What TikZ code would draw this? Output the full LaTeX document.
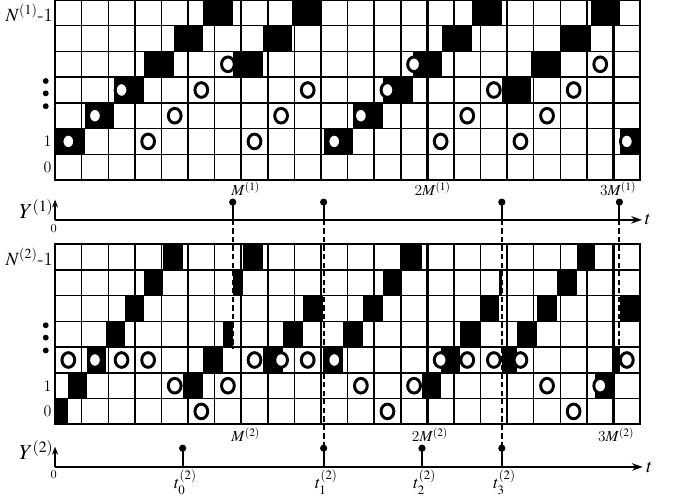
\documentclass[tikz,border=0pt]{standalone}
\usepackage{mathptmx}
\usepackage[scaled=0.92]{helvet}
\usetikzlibrary{arrows.meta}
\begin{document}
\begin{tikzpicture}[x=19.94pt,y=19.28pt,
	gridline/.style={line width=1.1pt},
	mline/.style={line width=1.8pt},
	bubble/.style={draw,line width=2.2pt,fill=white},
	timeaxis/.style={line width=1.4pt},
	pulse/.style={line width=1.4pt,dash pattern=on 4pt off 2.4pt}]
	
	\useasboundingbox (-2.07,-12.26) rectangle (23.5,7);
	\def\wa{1.115} %step width, upper row
	\def\ya{-1.55} %Y(1) axis
	\def\yb{-11.16} %Y(2) axis
	\def\hs{0.69} %spike height
	
	% upper staircases
	\begin{scope}
		\clip (0,0) rectangle (22,7);
		\foreach \s/\r/\n in {0/1/6,6.69/4/3,10.1/1/6,16.8/3/4,21.26/1/1}
		\foreach \k in {1,...,\n}
		\fill ({\s+(\k-1)*\wa},{\r+\k-1}) rectangle ({\s+\k*\wa},{\r+\k});
	\end{scope}
	
	% lower staircases
	\foreach \a/\b/\r in {0/0.49/0,0.49/1.2/1,1.2/1.9/2,1.9/2.63/3,2.63/3.35/4,3.35/4.06/5,4.06/4.81/6,
		4.81/5.58/1,5.58/6.33/2,6.33/6.7/3,6.7/7.08/5,7.08/7.83/6,7.83/8.58/2,8.58/9.33/3,9.33/10.08/4,
		10.08/10.83/2,10.83/11.58/3,11.58/12.32/4,12.32/13.06/5,13.06/13.8/6,
		13.8/14.52/1,14.52/15.24/2,15.24/15.98/3,15.98/16.7/4,16.7/16.8/5,
		16.8/17.38/2,17.38/18.13/3,18.13/18.88/4,18.88/19.62/5,19.62/20.31/6,
		20.31/21/1,21/21.25/2,21.25/22/4}
	\fill ({\a},{\r-9.5}) rectangle ({\b},{\r-8.5});
	
	% grids
	\foreach \y in {0,-9.5}{
		\foreach \i in {1,...,6} \draw[gridline] (0,{\y+\i}) -- (22,{\y+\i});
		\foreach \i in {1,...,21} \draw[gridline] (\i,\y) -- (\i,{\y+7});
		\foreach \i in {7,14,21} \draw[mline] (\i,\y) -- (\i,{\y+7});
		\draw[mline] (0,\y) rectangle (22,{\y+7});
	}
	
	% circles
	\foreach \r [count=\c from 0] in {1,2,3,1,2,3,4,1,2,3,1,2,3,4,1,2,3,1,2,3,4,1}
	\draw[bubble] ({\c+0.5},{\r+0.5}) ellipse [x radius=0.24,y radius=0.285];
	\foreach \r [count=\c from 0] in {2,2,2,2,1,0,1,2,2,2,2,1,0,1,2,2,2,2,1,0,1,2}
	\draw[bubble] ({\c+0.5},{\r-9}) ellipse [x radius=0.24,y radius=0.285];
	
	% row labels
	\node[left,inner sep=1.5pt] at (0,6.5) {\fontsize{14}{16}\selectfont$N^{(1)}$-1};
	\node[left,inner sep=2.5pt] at (0,1.5) {\large 1};
	\node[left,inner sep=2.5pt] at (0,0.5) {\large 0};
	\foreach \y in {3.85,3.37,2.87} \fill (-0.35,\y) circle (2.2pt);
	\node[left,inner sep=1.5pt] at (0,-3) {\fontsize{14}{16}\selectfont$N^{(2)}$-1};
	\node[left,inner sep=2.5pt] at (0,-8) {\large 1};
	\node[left,inner sep=2.5pt] at (0,-9) {\large\sffamily 0};
	\foreach \y in {-5.65,-6.13,-6.63} \fill (-0.35,\y) circle (2.2pt);
	
	% M labels
	\node[below,inner sep=1pt] at (7.17,0) {\fontsize{11.5}{13}\selectfont$M^{(1)}$};
	\node[below,inner sep=1pt] at (14.2,0) {\fontsize{11.5}{13}\selectfont\textit{2}$M^{(1)}$};
	\node[below,inner sep=1pt] at (21.17,0) {\fontsize{11.5}{13}\selectfont\textit{3}$M^{(1)}$};
	\node[below,inner sep=2.5pt] at (7.17,-9.5) {\fontsize{11.5}{13}\selectfont$M^{(2)}$};
	\node[below,inner sep=2.5pt] at (14.1,-9.5) {\fontsize{11.5}{13}\selectfont\textit{2}$M^{(2)}$};
	\node[below,inner sep=2.5pt] at (21.1,-9.5) {\fontsize{11.5}{13}\selectfont\textit{3}$M^{(2)}$};
	
	% Y(1)
	\draw[timeaxis,-{Stealth[length=8pt,width=5.5pt]}] (0,\ya) -- (22.07,\ya) node[right,inner sep=1.5pt] {\Large$t$};
	\draw[timeaxis,-{Stealth[length=6pt,width=4.5pt]}] (0,\ya) -- (0,-0.76);
	\node[left,inner sep=1pt] at (0,-1.13) {\fontsize{16}{18}\selectfont$Y^{(1)}$};
	\node at (-0.05,-1.9) {\sffamily\small 0};
	\foreach \x in {6.68,10.1,16.8,21.22}{
		\draw[timeaxis] (\x,\ya) -- (\x,\ya+\hs);
		\fill (\x,\ya+\hs) circle (2.7pt);
	}
	\draw[pulse] (6.68,\ya) -- (6.68,-6.55);
	\draw[pulse] (10.1,\ya) -- (10.1,\yb+0.73);
	\draw[pulse] (16.8,\ya) -- (16.8,\yb+0.73);
	\draw[pulse] (21.22,\ya) -- (21.22,-6.55);
	
	% Y(2)
	\draw[timeaxis,-{Stealth[length=8pt,width=5.5pt]}] (0,\yb) -- (22.1,\yb) node[right,inner sep=2pt] {\Large$t$};
	\draw[timeaxis,-{Stealth[length=6pt,width=4.5pt]}] (0,\yb) -- (0,-10.37);
	\node[left,inner sep=1pt] at (0,-10.5) {\fontsize{16}{18}\selectfont$Y^{(2)}$};
	\node at (-0.05,-11.47) {\sffamily\small 0};
	\foreach \x/\i in {4.8/0,10.1/1,13.8/2,16.8/3}{
		\draw[timeaxis] (\x,\yb) -- (\x,\yb+0.73);
		\fill (\x,\yb+0.73) circle (2.7pt);
		\node[above,inner sep=0.3pt] at (\x+0.1,-12.25) {\fontsize{13}{15}\selectfont$t^{(2)}_{\i}$};
	}
	
\end{tikzpicture}
\end{document}
